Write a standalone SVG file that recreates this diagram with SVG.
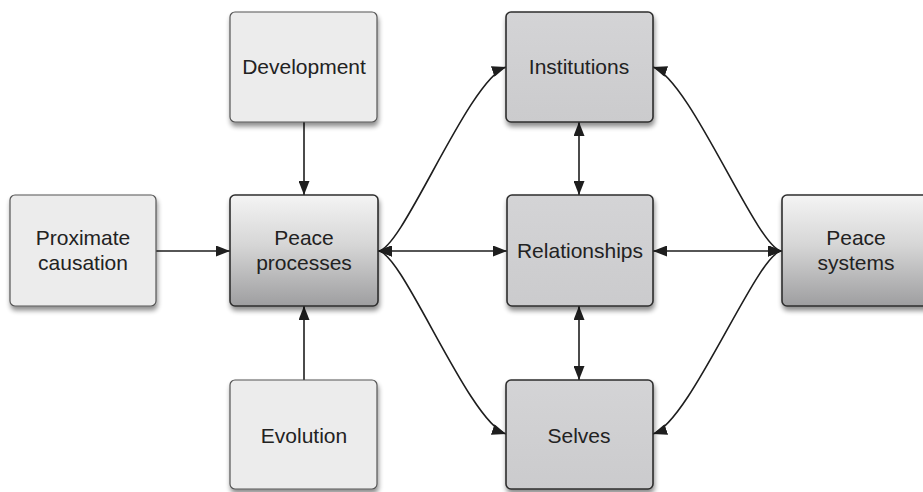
<svg xmlns="http://www.w3.org/2000/svg" width="923" height="492" viewBox="0 0 923 492">
  <defs>
    <linearGradient id="gradDark" x1="0" y1="0" x2="0" y2="1">
      <stop offset="0" stop-color="#f4f4f4"/>
      <stop offset="0.45" stop-color="#d6d6d6"/>
      <stop offset="1" stop-color="#9e9ea0"/>
    </linearGradient>
    <linearGradient id="gradMid" x1="0" y1="0" x2="0" y2="1">
      <stop offset="0" stop-color="#d4d4d6"/>
      <stop offset="1" stop-color="#cbcbcd"/>
    </linearGradient>
    <filter id="shadow" x="-10%" y="-10%" width="125%" height="130%">
      <feGaussianBlur in="SourceAlpha" stdDeviation="2.5"/>
      <feOffset dx="1" dy="4" result="b"/>
      <feComponentTransfer><feFuncA type="linear" slope="0.45"/></feComponentTransfer>
      <feMerge><feMergeNode/><feMergeNode in="SourceGraphic"/></feMerge>
    </filter>
    <marker id="arrow" markerUnits="userSpaceOnUse" markerWidth="15" markerHeight="11" refX="14" refY="5.5" orient="auto-start-reverse">
      <path d="M0,0 L14,5.5 L0,11 z" fill="#1e1e1e"/>
    </marker>
  </defs>
  <style>
    .box { stroke: #2e2e2e; stroke-width: 1.6; filter: url(#shadow); }
    .light { fill: #ececec; stroke: #555; stroke-width: 1.2; }
    .mid { fill: url(#gradMid); }
    .dark { fill: url(#gradDark); }
    .label { font-family: "Liberation Sans", Arial, sans-serif; font-size: 21px; fill: #222; text-anchor: middle; }
    .conn { fill: none; stroke: #1e1e1e; stroke-width: 1.6; }
    .one { marker-end: url(#arrow); }
    .two { marker-start: url(#arrow); marker-end: url(#arrow); }
  </style>

  <g id="connectors">
    <path class="conn one" d="M156,251 L230,251"/>
    <path class="conn one" d="M304,122 L304,195"/>
    <path class="conn one" d="M304,380 L304,306"/>
    <path class="conn two" d="M378,251 L507,251"/>
    <path class="conn two" d="M378,251 C402,251 468,80 506,67"/>
    <path class="conn two" d="M378,251 C402,251 468,421 506,434"/>
    <path class="conn two" d="M579,122 L579,195"/>
    <path class="conn two" d="M579,306 L579,380"/>
    <path class="conn two" d="M653,251 L782,251"/>
    <path class="conn two" d="M653,67 C691,80 758,251 782,251"/>
    <path class="conn two" d="M653,434 C691,421 758,251 782,251"/>
  </g>

  <g id="proximate-causation">
    <rect class="box light" x="10" y="195" width="146" height="111" rx="5"/>
    <text class="label" x="83" y="245">Proximate</text>
    <text class="label" x="83" y="270">causation</text>
  </g>
  <g id="development">
    <rect class="box light" x="230" y="12" width="147" height="110" rx="5"/>
    <text class="label" x="304" y="74">Development</text>
  </g>
  <g id="evolution">
    <rect class="box light" x="230" y="380" width="147" height="109" rx="5"/>
    <text class="label" x="304" y="443">Evolution</text>
  </g>
  <g id="peace-processes">
    <rect class="box dark" x="230" y="195" width="148" height="111" rx="5"/>
    <text class="label" x="304" y="245">Peace</text>
    <text class="label" x="304" y="270">processes</text>
  </g>
  <g id="institutions">
    <rect class="box mid" x="506" y="12" width="147" height="110" rx="5"/>
    <text class="label" x="579" y="74">Institutions</text>
  </g>
  <g id="relationships">
    <rect class="box mid" x="507" y="195" width="146" height="111" rx="5"/>
    <text class="label" x="580" y="258">Relationships</text>
  </g>
  <g id="selves">
    <rect class="box mid" x="506" y="380" width="147" height="109" rx="5"/>
    <text class="label" x="579" y="443">Selves</text>
  </g>
  <g id="peace-systems">
    <rect class="box dark" x="782" y="195" width="148" height="111" rx="5"/>
    <text class="label" x="856" y="245">Peace</text>
    <text class="label" x="856" y="270">systems</text>
  </g>
</svg>
